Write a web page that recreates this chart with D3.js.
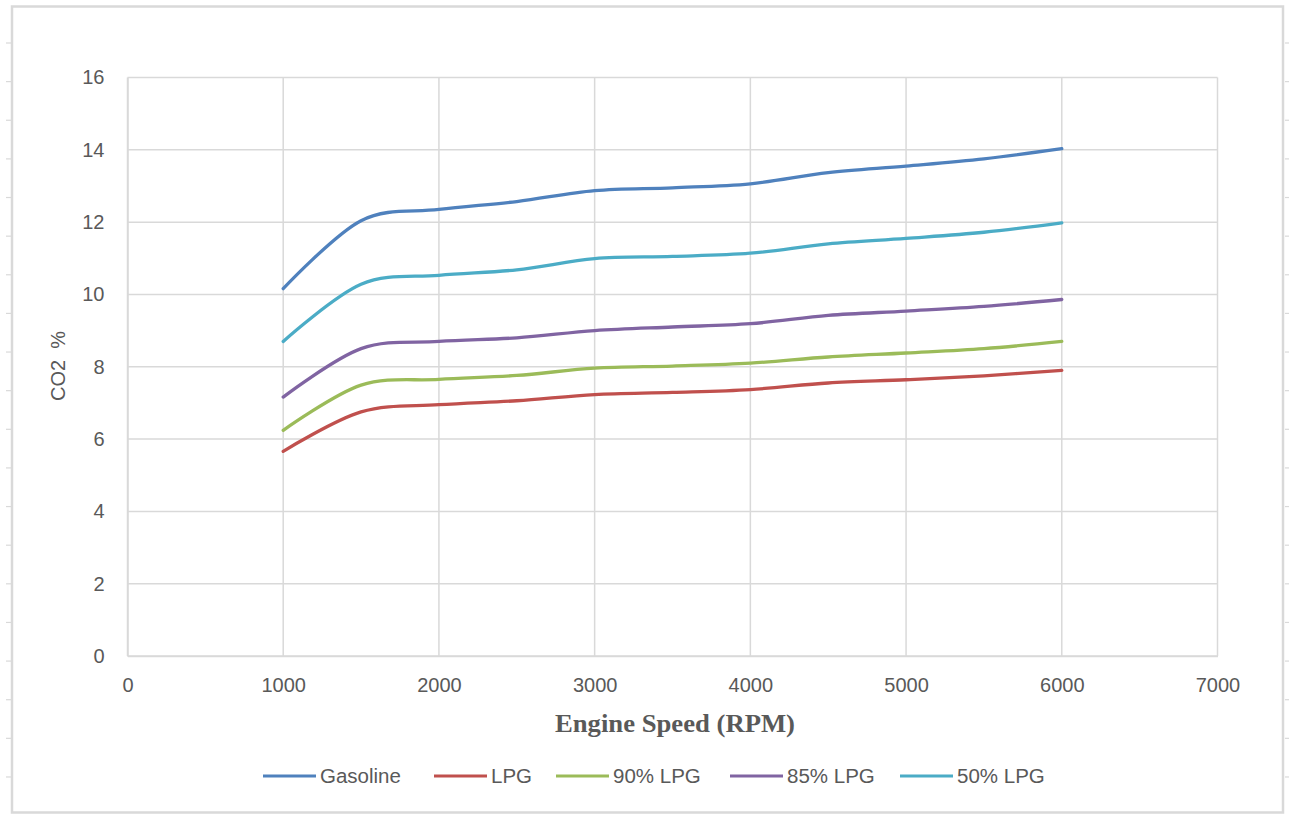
<!DOCTYPE html>
<html>
<head>
<meta charset="utf-8">
<script src="https://cdn.jsdelivr.net/npm/d3@7"></script>
<style>
  html, body { margin: 0; padding: 0; background: #ffffff; }
  svg { display: block; }
  text { font-family: "Liberation Sans", Arial, sans-serif; fill: #595959; }
</style>
</head>
<body>
<script>
// ---- data ----
const rpm = [1000, 1500, 2000, 2500, 3000, 3500, 4000, 4500, 5000, 5500, 6000];
const gasoline = [10.16, 12.04, 12.35, 12.57, 12.87, 12.95, 13.06, 13.37, 13.55, 13.75, 14.03];
const lpg      = [5.66, 6.75, 6.95, 7.06, 7.23, 7.29, 7.37, 7.55, 7.64, 7.75, 7.90];
const lpg90    = [6.24, 7.49, 7.65, 7.76, 7.96, 8.02, 8.10, 8.27, 8.38, 8.50, 8.70];
const lpg85    = [7.16, 8.50, 8.70, 8.80, 9.00, 9.10, 9.19, 9.42, 9.54, 9.67, 9.86];
const lpg50    = [8.70, 10.28, 10.53, 10.68, 10.99, 11.05, 11.14, 11.40, 11.55, 11.72, 11.98];
const seriesNames = ["Gasoline", "LPG", "90% LPG", "85% LPG", "50% LPG"];
const seriesColors = ["#4F81BD", "#C0504D", "#9BBB59", "#8064A2", "#4BACC6"];
const xTicks = [0, 1000, 2000, 3000, 4000, 5000, 6000, 7000];
const yTicks = [0, 2, 4, 6, 8, 10, 12, 14, 16];
const xTitle = "Engine Speed (RPM)";
const yTitle = "CO2  %";

const seriesValues = [gasoline, lpg, lpg90, lpg85, lpg50];
const series = seriesNames.map((name, i) => ({
  name, color: seriesColors[i],
  points: rpm.map((r, j) => ({ x: r, y: seriesValues[i][j] }))
}));

// ---- layout ----
const W = 1289, H = 815;
const plot = { left: 127.5, right: 1217.5, top: 77.5, bottom: 656 };

const svg = d3.select("body").append("svg").attr("width", W).attr("height", H);

// outer frame and sheet ticks
const frame = svg.append("g");
frame.append("rect").attr("x", 12).attr("y", 6.5).attr("width", 1271).attr("height", 806)
  .attr("fill", "none").attr("stroke", "#d9d9d9").attr("stroke-width", 2.5);
const sheetTicks = d3.range(20).map(i => 43 + i * 38.63);
frame.selectAll("line.lt").data(sheetTicks).join("line")
  .attr("x1", 6).attr("x2", 11).attr("y1", d => d).attr("y2", d => d)
  .attr("stroke", "#d9d9d9").attr("stroke-width", 1.2);
frame.selectAll("line.rt").data(sheetTicks).join("line")
  .attr("x1", 1285).attr("x2", 1289).attr("y1", d => d).attr("y2", d => d)
  .attr("stroke", "#d9d9d9").attr("stroke-width", 1.2);

const x = d3.scaleLinear().domain([0, 7000]).range([plot.left, plot.right]);
const y = d3.scaleLinear().domain([0, 16]).range([plot.bottom, plot.top]);

// gridlines
const grid = svg.append("g");
grid.selectAll("line.gx").data(xTicks).join("line")
  .attr("x1", d => x(d)).attr("x2", d => x(d))
  .attr("y1", plot.top).attr("y2", plot.bottom)
  .attr("stroke", "#d9d9d9").attr("stroke-width", 1.5);
grid.selectAll("line.gy").data(yTicks).join("line")
  .attr("x1", plot.left).attr("x2", plot.right)
  .attr("y1", d => y(d)).attr("y2", d => y(d))
  .attr("stroke", "#d9d9d9").attr("stroke-width", 1.5);

// axes
const xAxis = d3.axisBottom(x).tickValues(xTicks).tickSize(0).tickPadding(22).tickFormat(d3.format("d"));
const gx = svg.append("g").attr("transform", `translate(0,${plot.bottom})`).call(xAxis);
gx.select(".domain").attr("stroke", "#d9d9d9").attr("stroke-width", 1.5);
gx.selectAll("text").attr("font-size", 20).style("font-family", "Liberation Sans, Arial, sans-serif").attr("fill", "#595959");

const yAxis = d3.axisLeft(y).tickValues(yTicks).tickSize(0).tickPadding(23).tickFormat(d3.format("d"));
const gy = svg.append("g").attr("transform", `translate(${plot.left},0)`).call(yAxis);
gy.select(".domain").attr("stroke", "#d9d9d9").attr("stroke-width", 1.5);
gy.selectAll("text").attr("font-size", 20).style("font-family", "Liberation Sans, Arial, sans-serif").attr("fill", "#595959");

// lines
const line = d3.line().x(d => x(d.x)).y(d => y(d.y)).curve(d3.curveCardinal.tension(0));
svg.append("g").selectAll("path").data(series).join("path")
  .attr("d", d => line(d.points))
  .attr("fill", "none").attr("stroke", d => d.color)
  .attr("stroke-width", 3.3).attr("stroke-linecap", "round").attr("stroke-linejoin", "round");

// axis titles
svg.append("text").attr("x", 675).attr("y", 732).attr("text-anchor", "middle")
  .style("font-family", "Liberation Serif, 'Times New Roman', serif")
  .attr("font-weight", "bold").attr("font-size", 25).attr("fill", "#595959")
  .attr("textLength", 240).attr("lengthAdjust", "spacingAndGlyphs")
  .text(xTitle);
svg.append("text").attr("transform", "translate(65,366) rotate(-90)")
  .attr("text-anchor", "middle").attr("font-size", 20).attr("fill", "#595959")
  .style("white-space", "pre")
  .text(yTitle);

// legend
const legendX = [263, 434, 556, 730, 900];
const lg = svg.append("g");
const items = lg.selectAll("g").data(series).join("g")
  .attr("transform", (d, i) => `translate(${legendX[i]},776)`);
items.append("line").attr("x1", 0).attr("x2", 53).attr("y1", 0).attr("y2", 0)
  .attr("stroke", d => d.color).attr("stroke-width", 3);
items.append("text").attr("x", 57).attr("y", 7).attr("font-size", 20.5).attr("fill", "#595959")
  .text(d => d.name);
</script>
</body>
</html>
